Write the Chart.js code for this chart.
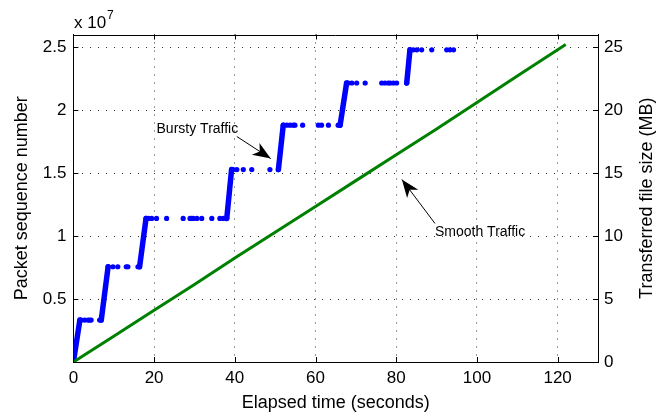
<!DOCTYPE html>
<html>
<head>
<meta charset="utf-8">
<script src="https://cdn.jsdelivr.net/npm/chart.js@4/dist/chart.umd.min.js"></script>
<style>
html, body { margin: 0; padding: 0; background: #fff; }
#wrap { width: 669px; height: 416px; }
</style>
</head>
<body>
<div id="wrap"><canvas id="c" width="669" height="416"></canvas></div>
<script>
"use strict";

// Smooth traffic: elapsed time (s) -> packet sequence number
var smoothTime = [0, 10, 20, 30, 40, 50, 60, 70, 80, 90, 100, 110, 122];
var smoothSeq = [0, 2.05e6, 4.1e6, 6.15e6, 8.25e6, 1.03e7, 1.235e7, 1.44e7, 1.645e7, 1.85e7, 2.06e7, 2.27e7, 2.52e7];

// Bursty traffic: one sequence level per burst, with the sample times seen on it
var burstLevels = [0, 3.33e6, 7.56e6, 1.14e7, 1.528e7, 1.88e7, 2.215e7, 2.478e7];
var burstTimes = [
  [0],
  [1.6, 2.0, 2.8, 3.6, 4.0, 4.4, 6.5, 6.9],
  [8.6, 9.8, 11.0, 13.1, 13.5, 16.0, 16.4],
  [18.0, 18.6, 19.4, 20.6, 23.1, 27.2, 28.9, 29.3, 29.7, 30.6, 31.8, 34.3, 36.3, 37.1, 38.0],
  [39.2, 39.6, 40.5, 42.1, 44.2, 48.7, 50.8],
  [52.0, 52.9, 53.7, 54.5, 54.9, 56.8, 60.7, 61.5, 63.2, 65.6, 66.1],
  [67.7, 68.1, 69.0, 70.2, 72.3, 76.4, 77.2, 78.0, 78.5, 79.3, 80.1, 82.6],
  [83.4, 84.2, 85.1, 86.3, 88.8, 92.5, 93.3, 94.2]
];

// Axis ticks
var xTicks = [0, 20, 40, 60, 80, 100, 120];
var seqTicks = [0.5e7, 1e7, 1.5e7, 2e7, 2.5e7];
var mbTicks = [0, 5, 10, 15, 20, 25];

// Text annotations with arrows (data units)
var notes = [
  { text: "Bursty Traffic", x: 20.6, y: 1.848e7, fromX: 40.5, fromY: 1.79e7, toX: 48.9, toY: 1.615e7 },
  { text: "Smooth Traffic", x: 89.6, y: 1.031e7, fromX: 89.6, fromY: 1.1e7, toX: 81.4, toY: 1.449e7 }
];

var BLUE = "#0000ff";
var GREEN = "#008000";
var FONT = "'Liberation Sans', Arial, Helvetica, sans-serif";
Chart.defaults.font.family = FONT;

var smoothPts = smoothTime.map(function(t, i) { return { x: t, y: smoothSeq[i] }; });
var burstPts = [];
burstLevels.forEach(function(lv, i) {
  burstTimes[i].forEach(function(t) { burstPts.push({ x: t, y: lv }); });
});

function setTicks(list) {
  return function(scale) { scale.ticks = list.map(function(v) { return { value: v }; }); };
}

function arrowHead(ctx, x0, y0, x1, y1) {
  var a = Math.atan2(y1 - y0, x1 - x0);
  var len = 18, half = 7, notch = 13;
  ctx.save();
  ctx.translate(x1, y1);
  ctx.rotate(a);
  ctx.beginPath();
  ctx.moveTo(0, 0);
  ctx.lineTo(-len, -half);
  ctx.lineTo(-notch, 0);
  ctx.lineTo(-len, half);
  ctx.closePath();
  ctx.fill();
  ctx.restore();
}

var decor = {
  id: "decor",
  afterDraw: function(chart) {
    var ctx = chart.ctx, a = chart.chartArea;
    var sx = chart.scales.x, sy = chart.scales.y, sr = chart.scales.y2;
    ctx.save();
    ctx.strokeStyle = "#000";
    ctx.lineWidth = 1;
    // top frame line
    ctx.beginPath();
    ctx.moveTo(a.left, Math.round(a.top) + 0.5);
    ctx.lineTo(a.right, Math.round(a.top) + 0.5);
    ctx.stroke();
    // inward tick marks
    ctx.beginPath();
    xTicks.forEach(function(v) {
      var px = Math.round(sx.getPixelForValue(v)) + 0.5;
      ctx.moveTo(px, a.bottom); ctx.lineTo(px, a.bottom - 5);
      ctx.moveTo(px, a.top); ctx.lineTo(px, a.top + 5);
    });
    seqTicks.forEach(function(v) {
      var py = Math.round(sy.getPixelForValue(v)) + 0.5;
      ctx.moveTo(a.left, py); ctx.lineTo(a.left + 5, py);
    });
    mbTicks.forEach(function(v) {
      var py = Math.round(sr.getPixelForValue(v)) + 0.5;
      ctx.moveTo(a.right, py); ctx.lineTo(a.right - 5, py);
    });
    ctx.stroke();

    // exponent label
    ctx.fillStyle = "#000";
    ctx.textBaseline = "alphabetic";
    ctx.textAlign = "left";
    ctx.font = "17px " + FONT;
    ctx.fillText("x 10", 74, 28);
    ctx.font = "12px " + FONT;
    ctx.fillText("7", 107, 19);

    // right axis title, reading upward
    ctx.save();
    ctx.translate(647, (a.top + a.bottom) / 2);
    ctx.rotate(-Math.PI / 2);
    ctx.textAlign = "center";
    ctx.textBaseline = "middle";
    ctx.font = "18px " + FONT;
    ctx.fillText("Transferred file size (MB)", 0, 0);
    ctx.restore();

    // annotations
    notes.forEach(function(n) {
      ctx.font = "14px " + FONT;
      ctx.textAlign = "left";
      ctx.textBaseline = "middle";
      ctx.fillText(n.text, sx.getPixelForValue(n.x), sy.getPixelForValue(n.y));
      var x0 = sx.getPixelForValue(n.fromX), y0 = sy.getPixelForValue(n.fromY);
      var x1 = sx.getPixelForValue(n.toX), y1 = sy.getPixelForValue(n.toY);
      ctx.beginPath();
      ctx.moveTo(x0, y0);
      ctx.lineTo(x1, y1);
      ctx.stroke();
      arrowHead(ctx, x0, y0, x1, y1);
    });
    ctx.restore();
  }
};

var tickFont = { size: 17 };
var titleFont = { size: 18 };

new Chart(document.getElementById("c").getContext("2d"), {
  type: "scatter",
  data: {
    datasets: [
      {
        label: "Smooth Traffic",
        data: smoothPts,
        showLine: true,
        borderColor: GREEN,
        borderWidth: 3,
        pointRadius: 0,
        yAxisID: "y"
      },
      {
        label: "Bursty Traffic",
        data: burstPts,
        showLine: true,
        borderColor: BLUE,
        borderWidth: 5.5,
        borderCapStyle: "round",
        borderJoinStyle: "round",
        pointRadius: 2.6,
        pointBorderWidth: 0,
        pointBackgroundColor: BLUE,
        segment: {
          borderColor: function(c) { return c.p1.parsed.y > c.p0.parsed.y ? BLUE : "rgba(0,0,0,0)"; }
        },
        yAxisID: "y"
      }
    ]
  },
  options: {
    responsive: false,
    animation: false,
    layout: { padding: { top: 34.5, left: 0, right: 0, bottom: 0 } },
    plugins: { legend: { display: false }, tooltip: { enabled: false } },
    scales: {
      x: {
        type: "linear",
        position: "bottom",
        min: 0,
        max: 130,
        afterBuildTicks: setTicks(xTicks),
        afterFit: function(s) { s.height = 54; },
        grid: { color: "#333", drawTicks: false },
        border: { color: "#000", width: 1, dash: [1, 7] },
        ticks: { color: "#000", font: tickFont, padding: 6.5, maxRotation: 0 },
        title: { display: true, text: "Elapsed time (seconds)", color: "#000", font: titleFont, padding: { top: 0, bottom: 2 } }
      },
      y: {
        type: "linear",
        position: "left",
        min: 0,
        max: 2.6e7,
        afterBuildTicks: setTicks(seqTicks),
        afterFit: function(s) { s.width = 73.4; },
        grid: { color: "#333", drawTicks: false },
        border: { color: "#000", width: 1, dash: [1, 7] },
        ticks: { color: "#000", font: tickFont, padding: 7, callback: function(v) { return String(v / 1e7); } },
        title: { display: true, text: "Packet sequence number", color: "#000", font: titleFont, padding: { top: 11, bottom: 0 } }
      },
      y2: {
        type: "linear",
        position: "right",
        min: 0,
        max: 26,
        afterBuildTicks: setTicks(mbTicks),
        afterFit: function(s) { s.width = 71; },
        grid: { drawOnChartArea: false, drawTicks: false },
        border: { color: "#000", width: 1 },
        ticks: { color: "#000", font: tickFont, padding: 6 }
      }
    }
  },
  plugins: [decor]
});
</script>
</body>
</html>
